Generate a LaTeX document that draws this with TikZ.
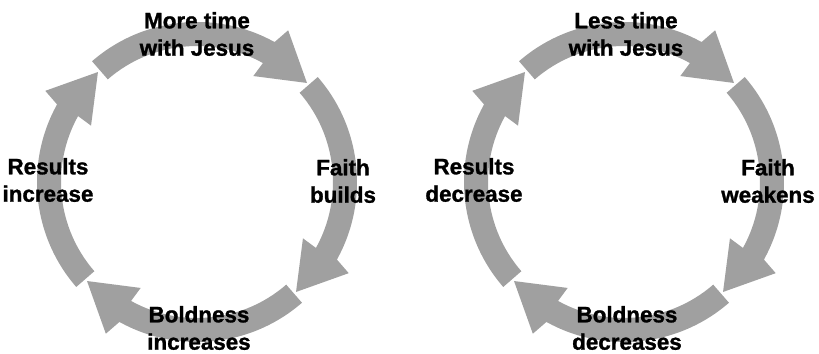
\documentclass[tikz,border=0pt]{standalone}
\usepackage{fontspec}
\setmainfont[BoldFeatures={FakeBold=1.2}]{Liberation Sans}
\usetikzlibrary{positioning}
\definecolor{bandgray}{RGB}{160,160,160}
\tikzset{
    band/.style = {fill=bandgray, draw=none},
    lbl/.style = {align=center, inner sep=0pt, font=\fontsize{16.8pt}{20.5pt}\selectfont\bfseries},
}
% bent arrow round a centre: #1 centre, #2 tail angle (runs clockwise)
\newcommand{\bendarrow}[2]{%
  \fill[band,shift={#1}] (#2:160) arc[start angle=#2, end angle=#2-70, radius=160]
    -- (#2-72:177) -- (#2-89:148) -- (#2-69:120) -- (#2-70:136)
    arc[start angle=#2-70, end angle=#2, radius=136] -- cycle;}

\begin{document}
\begin{tikzpicture}[x=0.75pt,y=0.75pt]
\useasboundingbox (0,0) rectangle (819,354);
%
% left cycle
\bendarrow{(197,172)}{131}
\bendarrow{(197,172)}{41}
\bendarrow{(197,172)}{-49}
\bendarrow{(197,172)}{-139}
%
% right cycle
\bendarrow{(624,172)}{131}
\bendarrow{(624,172)}{41}
\bendarrow{(624,172)}{-49}
\bendarrow{(624,172)}{-139}
%
\node[lbl] at (197,320) (more) {More time\\with Jesus};
\node[lbl] at (343,173) (faith) {Faith\\builds};
\node[lbl] at (199,26) (bold) {Boldness\\increases};
\node[lbl] at (48,174) (results) {Results\\increase};
%
\node[lbl] at (626,320) (less) {Less time\\with Jesus};
\node[lbl] at (768,173) (faithw) {Faith\\weakens};
\node[lbl] at (627,26) (boldd) {Boldness\\decreases};
\node[lbl] at (474,174) (resultsd) {Results\\decrease};
\end{tikzpicture}
\end{document}
